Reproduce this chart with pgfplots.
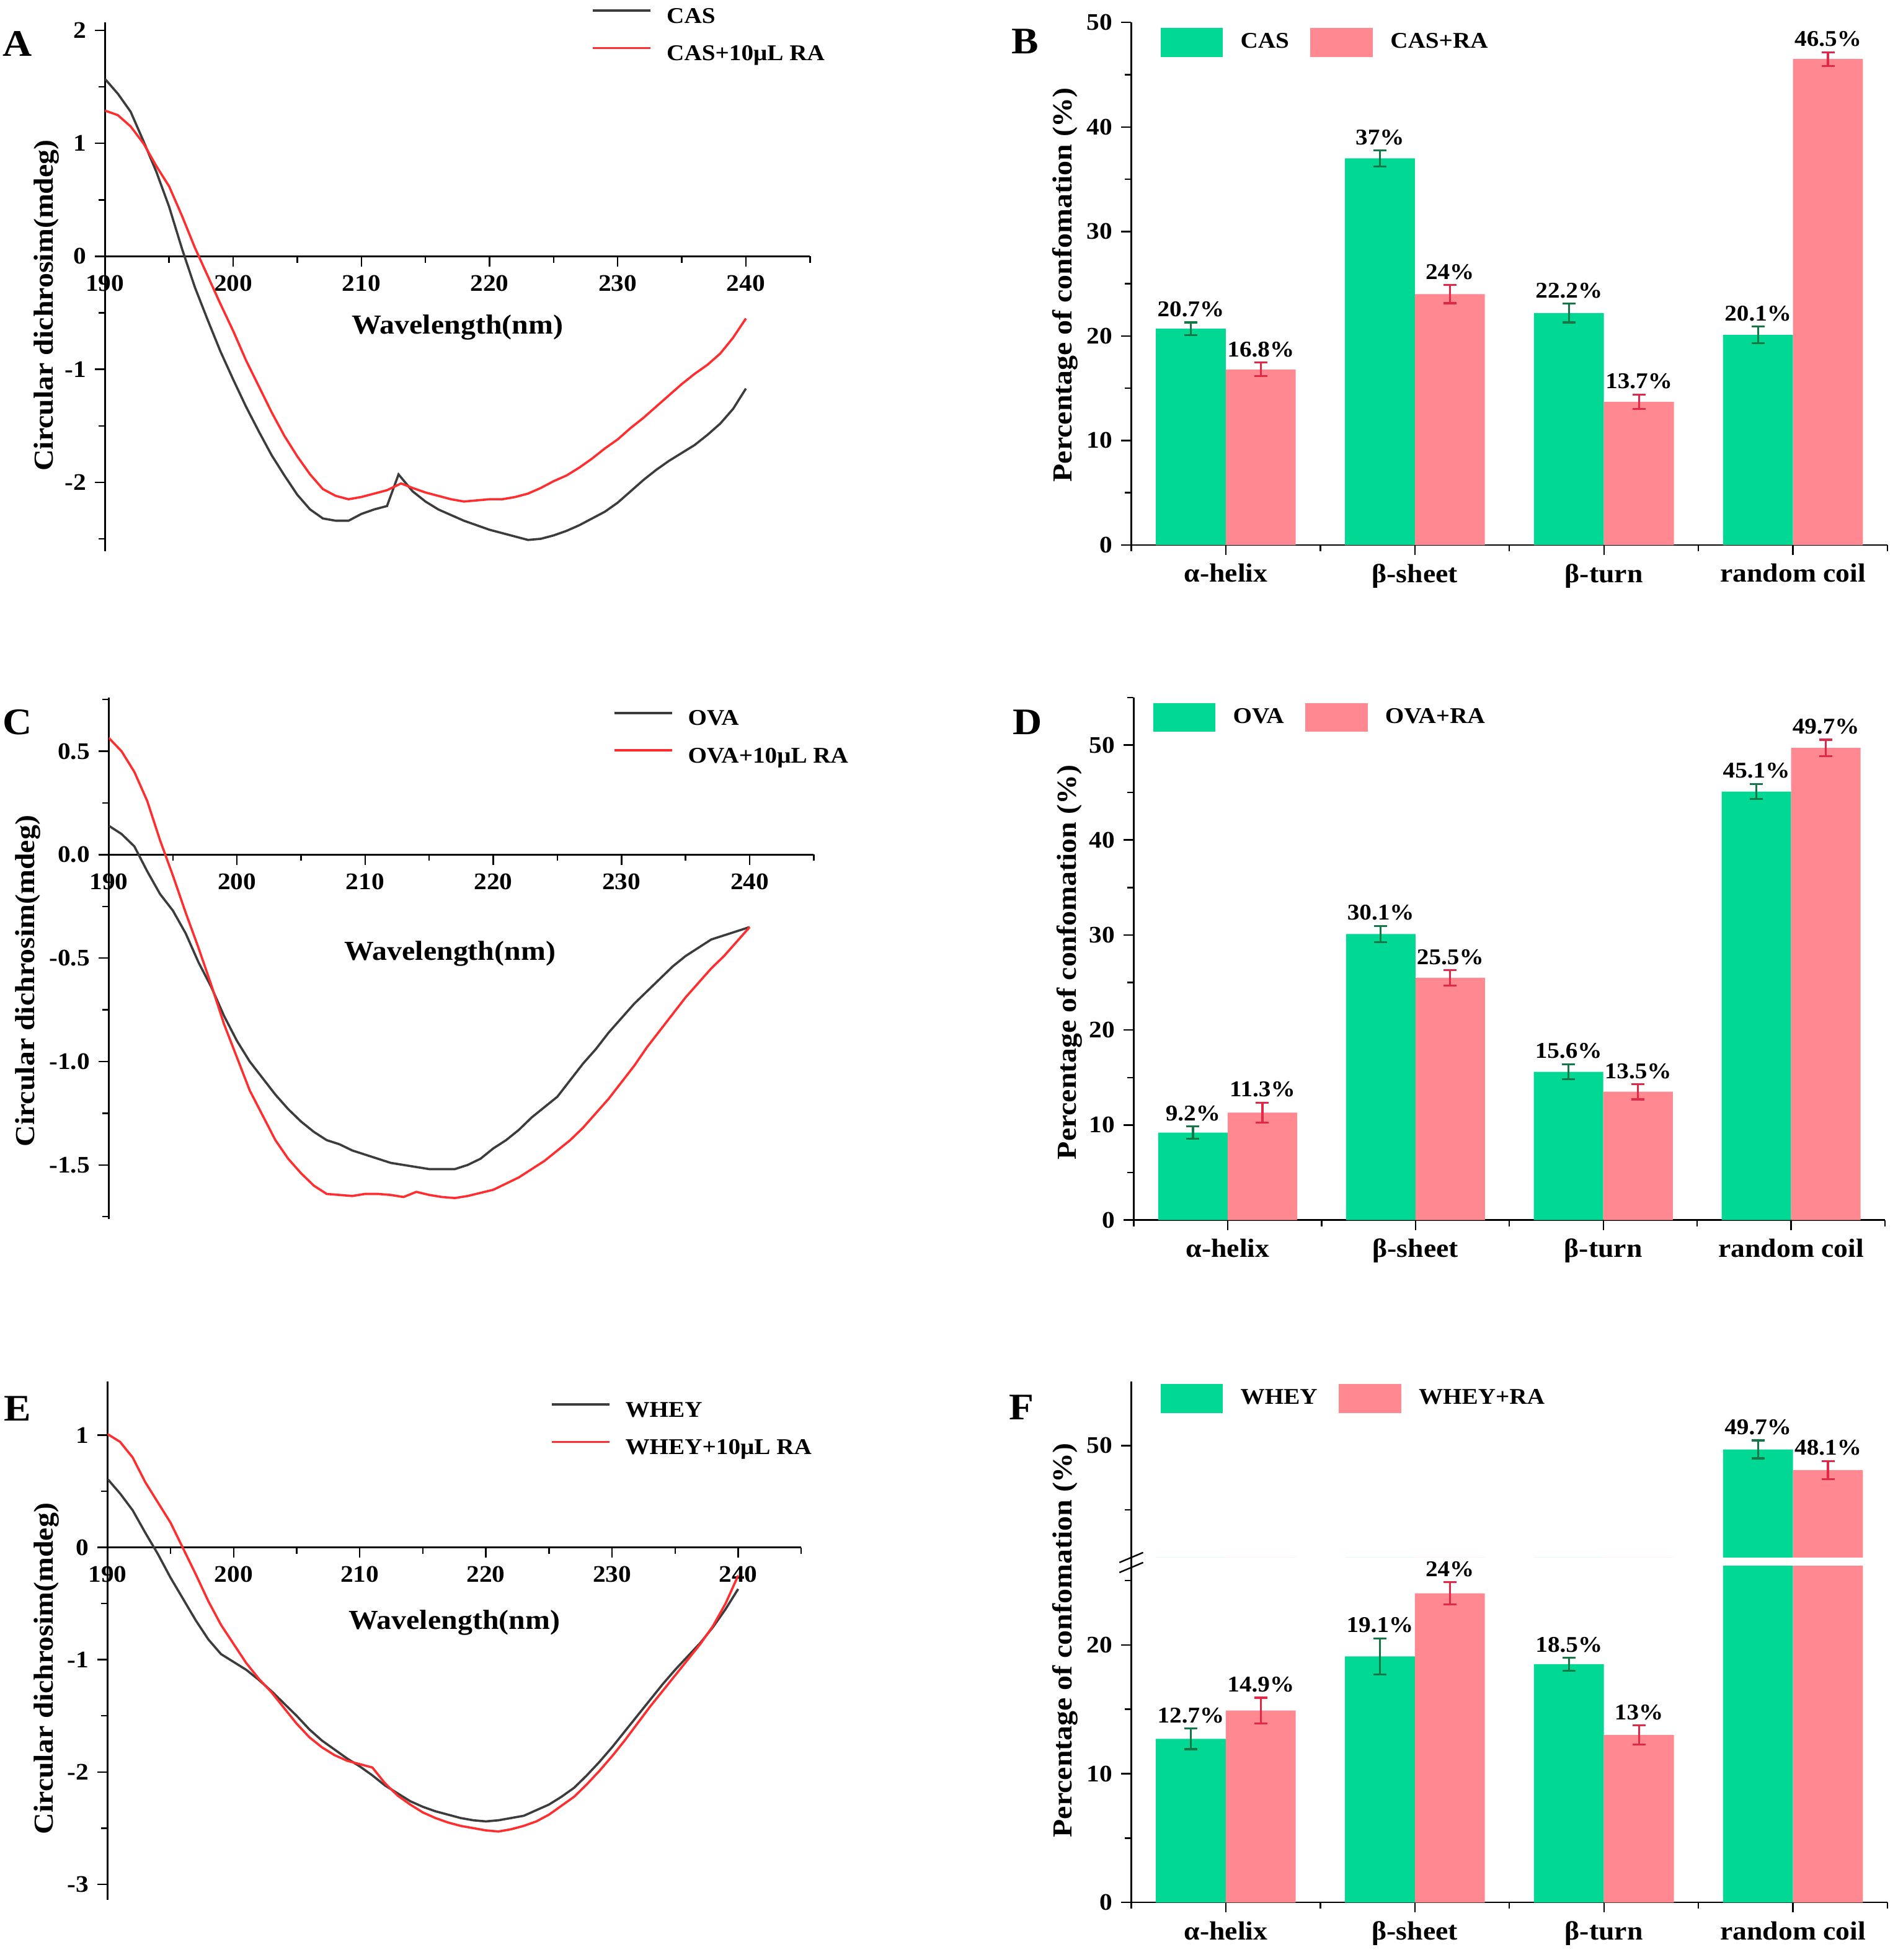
\documentclass[border=0pt]{standalone}
\usepackage{pgfplots}
\pgfplotsset{compat=1.18}
\usepackage{pgfplotstable}
\usepackage{fontspec}
\setmainfont{Liberation Serif}[FakeStretch=1.08]

\definecolor{cgreen}{RGB}{0,216,148}
\definecolor{cpink}{RGB}{255,136,145}
\definecolor{cgerr}{RGB}{20,120,70}
\definecolor{cperr}{RGB}{225,40,70}
\definecolor{cblack}{RGB}{60,60,60}
\definecolor{cred}{RGB}{255,45,45}

\pgfplotsset{/pgf/number format/assume math mode=true}

\pgfplotsset{
 cdaxis/.style={scale only axis, anchor=south west, xmin=190, xmax=245,
  axis x line=middle, axis y line=left, axis line style={-, line width=0.6pt, black},
  hide obscured x ticks=false, hide obscured y ticks=false,
  xtick={190,200,...,240}, minor xtick={195,205,...,245},
  tick align=outside, major tick length=4pt, minor tick length=2.5pt,
  every tick/.style={line width=0.6pt, black},
  tick label style={font=\fontsize{9.5}{10}\selectfont\bfseries},
  label style={font=\fontsize{11}{12}\selectfont\bfseries},
  xlabel={Wavelength(nm)}, ylabel={Circular dichrosim(mdeg)},
  legend style={draw=none, fill=none, inner sep=0pt, row sep=6pt, column sep=6pt, anchor=north west,
    font=\fontsize{9}{10}\selectfont\bfseries, nodes={inner sep=0pt, text height=7pt, text depth=2pt}},
  legend cell align=left,
  legend image code/.code={\draw[##1] (0pt,2.5pt) -- (23pt,2.5pt);},
 },
 cdblack/.style={cblack, line width=0.9pt},
 cdred/.style={cred, line width=0.9pt},
 baraxis/.style={scale only axis, anchor=south west, xmin=0.5, xmax=4.5,
  axis x line*=bottom, axis y line*=left, axis line style={line width=0.6pt, black},
  xtick={1,2,3,4}, xticklabels={α-helix,β-sheet,β-turn,random coil},
  minor xtick={0.5,1.5,2.5,3.5,4.5},
  tick align=outside, major tick length=4pt, minor tick length=2.5pt,
  every tick/.style={line width=0.6pt, black},
  tick label style={font=\fontsize{9.5}{10}\selectfont\bfseries},
  xticklabel style={font=\fontsize{10.5}{11}\selectfont\bfseries},
  label style={font=\fontsize{11}{12}\selectfont\bfseries},
  legend style={draw=none, fill=none, inner sep=0pt, anchor=north west, legend columns=-1,
    column sep=7pt, /tikz/every even column/.append style={column sep=8.5pt},
    font=\fontsize{9}{10}\selectfont\bfseries, nodes={inner sep=0pt}},
  legend image code/.code={\fill[draw=none,##1] (0pt,-5.75pt) rectangle (25pt,5.75pt);},
 },
 gbar/.style={ybar, bar width=0.37, bar shift=0, fill=cgreen, draw=none, forget plot,
  error bars/y dir=both, error bars/y explicit,
  error bars/error bar style={cgerr, line width=0.8pt},
  error bars/error mark options={rotate=90, mark size=2.6pt, cgerr, line width=0.8pt}},
 pbar/.style={ybar, bar width=0.37, bar shift=0, fill=cpink, draw=none, forget plot,
  error bars/y dir=both, error bars/y explicit,
  error bars/error bar style={cperr, line width=0.8pt},
  error bars/error mark options={rotate=90, mark size=2.6pt, cperr, line width=0.8pt}},
 barlab/.style={draw=none, forget plot, point meta=explicit,
  nodes near coords={\pgfmathprintnumber[fixed,precision=1]{\pgfplotspointmeta}\%},
  nodes near coords style={anchor=south, font=\fontsize{9}{10}\selectfont\bfseries, inner sep=2pt, black}},
}

% ---------------- CD spectra ----------------
\pgfplotstableread{
x y
190 1.57
191 1.44
192 1.28
193 1.02
194 0.75
195 0.44
196 0.07
197 -0.27
198 -0.56
199 -0.84
200 -1.09
201 -1.33
202 -1.55
203 -1.76
204 -1.94
205 -2.11
206 -2.24
207 -2.32
208 -2.34
209 -2.34
210 -2.28
211 -2.24
212 -2.21
212.9 -1.93
214 -2.08
215 -2.17
216 -2.24
217 -2.29
218 -2.34
219 -2.38
220 -2.42
221 -2.45
222 -2.48
223 -2.51
224 -2.50
225 -2.47
226 -2.43
227 -2.38
228 -2.32
229 -2.26
230 -2.18
231 -2.08
232 -1.98
233 -1.89
234 -1.81
235 -1.74
236 -1.67
237 -1.58
238 -1.48
239 -1.35
240 -1.17
}\tabAk
\pgfplotstableread{
x y
190 1.29
191 1.25
192 1.15
193 1.00
194 0.80
195 0.62
196 0.36
197 0.08
198 -0.17
199 -0.42
200 -0.66
201 -0.92
202 -1.15
203 -1.38
204 -1.59
205 -1.77
206 -1.93
207 -2.06
208 -2.12
209 -2.15
210 -2.13
211 -2.10
212 -2.07
213.1 -2.01
214 -2.05
215 -2.09
216 -2.12
217 -2.15
218 -2.17
219 -2.16
220 -2.15
221 -2.15
222 -2.13
223 -2.10
224 -2.05
225 -1.99
226 -1.94
227 -1.87
228 -1.79
229 -1.70
230 -1.62
231 -1.52
232 -1.43
233 -1.33
234 -1.23
235 -1.13
236 -1.04
237 -0.96
238 -0.86
239 -0.72
240 -0.55
}\tabAr
\pgfplotstableread{
x y
190 0.14
191 0.10
192 0.04
193 -0.08
194 -0.19
195 -0.27
196 -0.38
197 -0.52
198 -0.64
199 -0.78
200 -0.90
201 -1.00
202 -1.08
203 -1.16
204 -1.23
205 -1.29
206 -1.34
207 -1.38
208 -1.40
209 -1.43
210 -1.45
211 -1.47
212 -1.49
213 -1.50
214 -1.51
215 -1.52
216 -1.52
217 -1.52
218 -1.50
219 -1.47
220 -1.42
221 -1.38
222 -1.33
223 -1.27
224 -1.22
225 -1.17
226 -1.09
227 -1.01
228 -0.94
229 -0.86
230 -0.79
231 -0.72
232 -0.66
233 -0.60
234 -0.54
235 -0.49
236 -0.45
237 -0.41
238 -0.39
239 -0.37
240 -0.35
}\tabCk
\pgfplotstableread{
x y
190 0.565
191 0.50
192 0.40
193 0.26
194 0.07
195 -0.10
196 -0.28
197 -0.45
198 -0.63
199 -0.82
200 -0.98
201 -1.14
202 -1.26
203 -1.38
204 -1.47
205 -1.54
206 -1.60
207 -1.64
208 -1.645
209 -1.65
210 -1.64
211 -1.64
212 -1.645
213 -1.655
214 -1.63
215 -1.645
216 -1.655
217 -1.66
218 -1.65
219 -1.635
220 -1.62
221 -1.59
222 -1.56
223 -1.52
224 -1.48
225 -1.43
226 -1.38
227 -1.32
228 -1.25
229 -1.18
230 -1.10
231 -1.02
232 -0.93
233 -0.85
234 -0.77
235 -0.69
236 -0.62
237 -0.55
238 -0.49
239 -0.42
240 -0.35
}\tabCr
\pgfplotstableread{
x y
190 0.61
191 0.48
192 0.33
193 0.13
194 -0.06
195 -0.27
196 -0.46
197 -0.65
198 -0.82
199 -0.95
200 -1.02
201 -1.09
202 -1.18
203 -1.28
204 -1.39
205 -1.50
206 -1.62
207 -1.72
208 -1.80
209 -1.88
210 -1.95
211 -2.03
212 -2.12
213 -2.19
214 -2.26
215 -2.31
216 -2.35
217 -2.38
218 -2.41
219 -2.43
220 -2.44
221 -2.43
222 -2.41
223 -2.39
224 -2.34
225 -2.29
226 -2.22
227 -2.14
228 -2.03
229 -1.91
230 -1.78
231 -1.64
232 -1.50
233 -1.36
234 -1.22
235 -1.09
236 -0.97
237 -0.85
238 -0.71
239 -0.55
240 -0.37
}\tabEk
\pgfplotstableread{
x y
190 1.01
191 0.94
192 0.80
193 0.58
194 0.40
195 0.22
196 -0.01
197 -0.24
198 -0.48
199 -0.69
200 -0.86
201 -1.03
202 -1.17
203 -1.29
204 -1.43
205 -1.57
206 -1.69
207 -1.78
208 -1.85
209 -1.90
210 -1.93
211 -1.96
212 -2.10
213 -2.21
214 -2.29
215 -2.36
216 -2.41
217 -2.45
218 -2.48
219 -2.50
220 -2.52
221 -2.53
222 -2.51
223 -2.48
224 -2.44
225 -2.38
226 -2.30
227 -2.22
228 -2.11
229 -1.99
230 -1.86
231 -1.72
232 -1.57
233 -1.42
234 -1.28
235 -1.14
236 -1.00
237 -0.86
238 -0.70
239 -0.50
240 -0.25
}\tabEr

% ---------------- secondary structure ----------------
\pgfplotstableread{
x a ea b eb
1 20.7 0.60 16.8 0.65
2 37.0 0.76 24.0 0.87
3 22.2 0.90 13.7 0.70
4 20.1 0.80 46.5 0.65
}\tabB
\pgfplotstableread{
x a ea b eb
1 9.2 0.65 11.3 1.05
2 30.1 0.85 25.5 0.80
3 15.6 0.80 13.5 0.80
4 45.1 0.80 49.7 0.85
}\tabD
\pgfplotstableread{
x a ea b eb
1 12.7 0.80 14.9 1.00
2 19.1 1.40 24.0 0.87
3 18.5 0.50 13.0 0.75
4 49.7 0.70 48.1 0.70
}\tabF

\begin{document}
\begin{tikzpicture}
\useasboundingbox (0,0) rectangle (759pt,784pt);

% ===== A =====
\begin{axis}[cdaxis, at={(42pt,563.5pt)}, width=282pt, height=211.5pt,
  ymin=-2.61, ymax=2.07, ytick={-2,-1,0,1,2}, minor ytick={-2.5,-1.5,-0.5,0.5,1.5},
  xlabel style={at={(axis description cs:0.5,0.423)}, anchor=center},
  ylabel style={at={(axis description cs:-0.083,0.465)}, anchor=center},
  legend style={at={(axis description cs:0.69,1.033)}}]
\addplot[cdblack] table[x=x,y=y] {\tabAk};
\addlegendentry{CAS}
\addplot[cdred] table[x=x,y=y] {\tabAr};
\addlegendentry{CAS+10μL RA}
\end{axis}

% ===== C =====
\begin{axis}[cdaxis, at={(43.5pt,296.5pt)}, width=282pt, height=208.5pt,
  ymin=-1.76, ymax=0.76, ytick={-1.5,-1,-0.5,0,0.5}, minor ytick={-1.75,-1.25,-0.75,-0.25,0.25,0.75},
  yticklabel style={/pgf/number format/.cd, fixed, fixed zerofill, precision=1},
  xlabel style={at={(axis description cs:0.484,0.508)}, anchor=center},
  ylabel style={at={(axis description cs:-0.115,0.456)}, anchor=center},
  legend style={at={(axis description cs:0.715,0.981)}}]
\addplot[cdblack] table[x=x,y=y] {\tabCk};
\addlegendentry{OVA}
\addplot[cdred] table[x=x,y=y] {\tabCr};
\addlegendentry{OVA+10μL RA}
\end{axis}

% ===== E =====
\begin{axis}[cdaxis, at={(43pt,24pt)}, width=277.5pt, height=207.5pt,
  ymin=-3.14, ymax=1.48, ytick={-3,-2,-1,0,1}, minor ytick={-2.5,-1.5,-0.5,0.5},
  xlabel style={at={(axis description cs:0.5,0.535)}, anchor=center},
  ylabel style={at={(axis description cs:-0.088,0.446)}, anchor=center},
  legend style={at={(axis description cs:0.638,0.966)}}]
\addplot[cdblack] table[x=x,y=y] {\tabEk};
\addlegendentry{WHEY}
\addplot[cdred] table[x=x,y=y] {\tabEr};
\addlegendentry{WHEY+10μL RA}
\end{axis}

% ===== B =====
\begin{axis}[baraxis, at={(452.5pt,566pt)}, width=302.5pt, height=209pt,
  ymin=0, ymax=50, ytick={0,10,...,50}, minor ytick={5,15,...,45},
  ylabel={Percentage of confomation (\%)},
  ylabel style={at={(axis description cs:-0.0876,0.498)}, anchor=center},
  legend style={at={(axis description cs:0.038,0.99)}}]
\addlegendimage{fill=cgreen, draw=none}
\addlegendentry{CAS}
\addlegendimage{fill=cpink, draw=none}
\addlegendentry{CAS+RA}
\addplot[gbar] table[x expr=\thisrow{x}-0.185,y=a,y error=ea] {\tabB};
\addplot[pbar] table[x expr=\thisrow{x}+0.185,y=b,y error=eb] {\tabB};
\addplot[barlab] table[x expr=\thisrow{x}-0.185, y expr=\thisrow{a}+\thisrow{ea}, meta=a] {\tabB};
\addplot[barlab] table[x expr=\thisrow{x}+0.185, y expr=\thisrow{b}+\thisrow{eb}, meta=b] {\tabB};
\end{axis}

% ===== D =====
\begin{axis}[baraxis, at={(453.5pt,296pt)}, width=300.5pt, height=209pt,
  ymin=0, ymax=55, ytick={0,10,...,50}, minor ytick={5,15,...,55},
  ylabel={Percentage of confomation (\%)},
  ylabel style={at={(axis description cs:-0.086,0.493)}, anchor=center},
  legend style={at={(axis description cs:0.025,0.99)}}]
\addlegendimage{fill=cgreen, draw=none}
\addlegendentry{OVA}
\addlegendimage{fill=cpink, draw=none}
\addlegendentry{OVA+RA}
\addplot[gbar] table[x expr=\thisrow{x}-0.185,y=a,y error=ea] {\tabD};
\addplot[pbar] table[x expr=\thisrow{x}+0.185,y=b,y error=eb] {\tabD};
\addplot[barlab] table[x expr=\thisrow{x}-0.185, y expr=\thisrow{a}+\thisrow{ea}, meta=a] {\tabD};
\addplot[barlab] table[x expr=\thisrow{x}+0.185, y expr=\thisrow{b}+\thisrow{eb}, meta=b] {\tabD};
\end{axis}

% ===== F (broken axis) =====
\begin{axis}[baraxis, name=Flow, at={(452.5pt,23pt)}, width=302.5pt, height=134.5pt,
  ymin=0, ymax=26.1, ytick={0,10,20}, minor ytick={5,15,25},
  ylabel={Percentage of confomation (\%)},
  ylabel style={at={(axis description cs:-0.0876,0.78)}, anchor=center}]
\addplot[gbar] table[x expr=\thisrow{x}-0.185,y=a,y error=ea] {\tabF};
\addplot[pbar] table[x expr=\thisrow{x}+0.185,y=b,y error=eb] {\tabF};
\addplot[barlab, restrict y to domain=0:30] table[x expr=\thisrow{x}-0.185, y expr=\thisrow{a}+\thisrow{ea}, meta=a] {\tabF};
\addplot[barlab, restrict y to domain=0:30] table[x expr=\thisrow{x}+0.185, y expr=\thisrow{b}+\thisrow{eb}, meta=b] {\tabF};
\end{axis}
\begin{axis}[baraxis, name=Fup, at={(452.5pt,161pt)}, width=302.5pt, height=70.5pt,
  axis x line=none, axis y line*=left,
  ymin=41.3, ymax=55, ytick={50}, minor ytick={45},
  legend style={at={(axis description cs:0.038,0.986)}}]
\addlegendimage{fill=cgreen, draw=none}
\addlegendentry{WHEY}
\addlegendimage{fill=cpink, draw=none}
\addlegendentry{WHEY+RA}
\addplot[gbar] table[x expr=\thisrow{x}-0.185,y=a,y error=ea] {\tabF};
\addplot[pbar] table[x expr=\thisrow{x}+0.185,y=b,y error=eb] {\tabF};
\addplot[barlab, restrict y to domain=40:60] table[x expr=\thisrow{x}-0.185, y expr=\thisrow{a}+\thisrow{ea}, meta=a] {\tabF};
\addplot[barlab, restrict y to domain=40:60] table[x expr=\thisrow{x}+0.185, y expr=\thisrow{b}+\thisrow{eb}, meta=b] {\tabF};
\end{axis}
\draw[line width=0.6pt] (Flow.north west) -- (Fup.south west);
\draw[line width=0.6pt] (447.75pt,159pt) -- (457.25pt,163pt);
\draw[line width=0.6pt] (447.75pt,155pt) -- (457.25pt,159pt);

% panel letters
\begin{scope}[every node/.style={font=\fontsize{15}{16}\selectfont\bfseries}]
\node at (7pt,766.5pt) {A};
\node at (410pt,767.5pt) {B};
\node at (7pt,495pt) {C};
\node at (411pt,495pt) {D};
\node at (7pt,220.5pt) {E};
\node at (408.5pt,221pt) {F};
\end{scope}
\end{tikzpicture}
\end{document}
